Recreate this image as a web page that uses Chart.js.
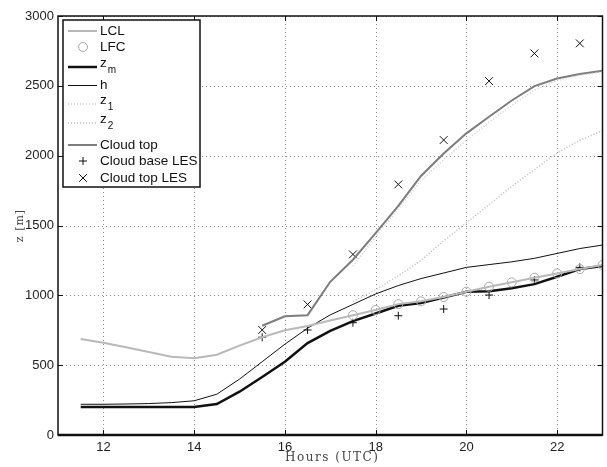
<!DOCTYPE html>
<html>
<head>
<meta charset="utf-8">
<script src="https://cdn.jsdelivr.net/npm/chart.js@4.4.0/dist/chart.umd.min.js"></script>
<style>
  html, body { margin: 0; padding: 0; background: #fff; overflow: hidden; }
</style>
</head>
<body>
<canvas id="chart" width="609" height="467"></canvas>
<script>
// half-hourly model output (hours UTC)
const hours = [11.5, 12, 12.5, 13, 13.5, 14, 14.5, 15, 15.5, 16, 16.5, 17, 17.5, 18, 18.5, 19, 19.5, 20, 20.5, 21, 21.5, 22, 22.5, 23];
const lcl = [687, 660, 628, 595, 560, 550, 575, 640, 700, 750, 780, 820, 858, 895, 937, 957, 988, 1026, 1062, 1093, 1126, 1157, 1188, 1217];
const lfc = [null, null, null, null, null, null, null, null, null, null, null, null, 858, 895, 937, 957, 988, 1026, 1062, 1093, 1126, 1157, 1188, 1217];
const zm = [200, 200, 200, 200, 200, 200, 222, 310, 415, 525, 658, 745, 815, 870, 925, 945, 985, 1025, 1030, 1050, 1080, 1133, 1188, 1210];
const hBl = [220, 220, 222, 225, 232, 245, 292, 400, 525, 650, 765, 860, 935, 1010, 1070, 1120, 1160, 1200, 1220, 1240, 1265, 1300, 1335, 1360];
const z1 = [null, null, null, null, null, null, null, null, null, null, null, null, 1210, 1420, 1620, 1820, 1970, 2110, 2240, 2360, 2470, 2540, 2575, 2600];
const z2 = [null, null, null, null, null, null, null, null, null, null, null, null, 955, 1040, 1140, 1250, 1390, 1520, 1650, 1780, 1900, 2020, 2110, 2180];
const cloudTop = [null, null, null, null, null, null, null, null, 782, 850, 858, 1097, 1255, 1445, 1640, 1855, 2015, 2160, 2279, 2395, 2498, 2553, 2585, 2608];

// LES results
const lesHours = [15.5, 16.5, 17.5, 18.5, 19.5, 20.5, 21.5, 22.5];
const lesBase = [700, 752, 804, 854, 902, 1002, 1110, 1200];
const lesTop = [752, 935, 1293, 1794, 2112, 2534, 2732, 2804];

const xTicks = [12, 14, 16, 18, 20, 22];
const yTicks = [0, 500, 1000, 1500, 2000, 2500, 3000];

const pts = (xs, ys) => xs.map((x, i) => ({ x: x, y: ys[i] }));

function lineSet(label, data, color, width, dash) {
    return {
        label: label,
        data: pts(hours, data),
        borderColor: color,
        borderWidth: width,
        borderDash: dash || [],
        pointRadius: 0,
        fill: false,
        spanGaps: false
    };
}

function markerSet(label, xs, ys, style, color, r) {
    return {
        label: label,
        data: pts(xs, ys),
        showLine: false,
        pointStyle: style,
        pointRadius: r,
        borderColor: color,
        backgroundColor: 'rgba(0,0,0,0)',
        borderWidth: 1
    };
}

const datasets = [
    lineSet('LCL', lcl, '#b9b9b9', 2),
    markerSet('LFC', hours, lfc, 'circle', '#a8a8a8', 4.5),
    lineSet('z_m', zm, '#111111', 2.5),
    lineSet('h', hBl, '#111111', 1),
    lineSet('z_1', z1, '#cfcfcf', 1.5, [1, 2]),
    lineSet('z_2', z2, '#bdbdbd', 1.5, [1, 2]),
    lineSet('Cloud top', cloudTop, '#7d7d7d', 2),
    markerSet('Cloud base LES', lesHours, lesBase, 'cross', '#111111', 4),
    markerSet('Cloud top LES', lesHours, lesTop, 'crossRot', '#111111', 5.5)
];

// legend rows: y of the sample, and label parts (main text + optional subscript)
const legendRows = [
    { y: 31, text: 'LCL' },
    { y: 47, text: 'LFC' },
    { y: 67, text: 'z', sub: 'm' },
    { y: 85, text: 'h' },
    { y: 104, text: 'z', sub: '1' },
    { y: 123, text: 'z', sub: '2' },
    { y: 145, text: 'Cloud top' },
    { y: 161, text: 'Cloud base LES' },
    { y: 178, text: 'Cloud top LES' }
];

const FONT = '"Liberation Sans", Arial, sans-serif';

// dotted grid under the data
const gridPlugin = {
    id: 'dottedGrid',
    beforeDatasetsDraw(chart) {
        const ctx = chart.ctx;
        const a = chart.chartArea;
        const xs = chart.scales.x, ys = chart.scales.y;
        ctx.save();
        ctx.strokeStyle = '#8c8c8c';
        ctx.lineWidth = 1;
        ctx.setLineDash([1, 3]);
        ctx.beginPath();
        xTicks.forEach(v => {
            const px = Math.round(xs.getPixelForValue(v)) + 0.5;
            ctx.moveTo(px, a.top); ctx.lineTo(px, a.bottom);
        });
        yTicks.forEach(v => {
            const py = Math.round(ys.getPixelForValue(v)) + 0.5;
            ctx.moveTo(a.left, py); ctx.lineTo(a.right, py);
        });
        ctx.stroke();
        ctx.restore();
    }
};

const framePlugin = {
    id: 'frame',
    afterDraw(chart) {
        const ctx = chart.ctx;
        const a = chart.chartArea;
        const xs = chart.scales.x, ys = chart.scales.y;
        ctx.save();

        // inward tick marks on all four sides
        ctx.strokeStyle = '#111';
        ctx.lineWidth = 1;
        ctx.beginPath();
        xTicks.forEach(v => {
            const px = Math.round(xs.getPixelForValue(v)) + 0.5;
            ctx.moveTo(px, a.bottom); ctx.lineTo(px, a.bottom - 5);
            ctx.moveTo(px, a.top); ctx.lineTo(px, a.top + 5);
        });
        yTicks.forEach(v => {
            const py = Math.round(ys.getPixelForValue(v)) + 0.5;
            ctx.moveTo(a.left, py); ctx.lineTo(a.left + 5, py);
            ctx.moveTo(a.right, py); ctx.lineTo(a.right - 5, py);
        });
        ctx.stroke();

        // axes box
        ctx.lineWidth = 1.5;
        ctx.strokeRect(a.left, a.top, a.right - a.left, a.bottom - a.top);
        ctx.lineWidth = 2.5;
        ctx.beginPath();
        ctx.moveTo(a.left, a.bottom); ctx.lineTo(a.right, a.bottom);
        ctx.stroke();

        // axis titles (serif, spaced like the LaTeX labels)
        ctx.fillStyle = '#444';
        ctx.font = '12px "DejaVu Serif"';
        ctx.letterSpacing = '1.5px';
        ctx.textAlign = 'center';
        ctx.textBaseline = 'middle';
        ctx.fillText('Hours (UTC)', (a.left + a.right) / 2 + 2, 458);
        ctx.save();
        ctx.translate(20, (a.top + a.bottom) / 2);
        ctx.rotate(-Math.PI / 2);
        ctx.letterSpacing = '1px';
        ctx.font = '11px "DejaVu Serif"';
        ctx.fillText('z [m]', 0, 0);
        ctx.restore();
        ctx.letterSpacing = '0px';

        // legend box
        const bx = 63, by = 20, bw = 137, bh = 167;
        ctx.fillStyle = '#fff';
        ctx.fillRect(bx, by, bw, bh);
        ctx.strokeStyle = '#111';
        ctx.lineWidth = 1.5;
        ctx.strokeRect(bx, by, bw, bh);

        legendRows.forEach((row, i) => {
            const ds = chart.data.datasets[i];
            ctx.save();
            ctx.strokeStyle = ds.borderColor;
            ctx.lineWidth = ds.borderWidth;
            if (ds.showLine === false) {
                ctx.fillStyle = 'rgba(0,0,0,0)';
                Chart.helpers.drawPoint(ctx, {
                    pointStyle: ds.pointStyle,
                    radius: ds.pointRadius,
                    borderWidth: ds.borderWidth
                }, 83, row.y);
            } else {
                const ly = ds.borderWidth === 1 ? row.y + 0.5 : row.y;
                ctx.setLineDash(ds.borderDash);
                ctx.beginPath();
                ctx.moveTo(68, ly);
                ctx.lineTo(97, ly);
                ctx.stroke();
            }
            ctx.restore();

            ctx.fillStyle = '#111';
            ctx.textAlign = 'left';
            ctx.textBaseline = 'middle';
            ctx.font = '13.5px ' + FONT;
            if (row.sub) {
                ctx.fillText(row.text, 100, row.y - 4);
                const w = ctx.measureText(row.text).width;
                ctx.font = '10px ' + FONT;
                ctx.fillText(row.sub, 100 + w + 1, row.y + 3);
            } else {
                ctx.fillText(row.text, 100, row.y);
            }
        });

        ctx.restore();
    }
};

new Chart(document.getElementById('chart'), {
    type: 'line',
    data: { datasets: datasets },
    options: {
        responsive: false,
        animation: false,
        layout: { padding: { top: 16, left: 0, right: 0, bottom: 0 } },
        elements: { line: { tension: 0 } },
        plugins: {
            legend: { display: false },
            tooltip: { enabled: false }
        },
        scales: {
            x: {
                type: 'linear',
                min: 11,
                max: 23,
                afterFit: s => { s.height = 32; },
                afterBuildTicks: s => { s.ticks = xTicks.map(v => ({ value: v })); },
                ticks: {
                    padding: 5,
                    color: '#222',
                    font: { family: FONT, size: 13 },
                    callback: v => String(v)
                },
                grid: { display: false, drawTicks: false },
                border: { display: false }
            },
            y: {
                min: 0,
                max: 3000,
                afterFit: s => { s.width = 58; },
                afterBuildTicks: s => { s.ticks = yTicks.map(v => ({ value: v })); },
                ticks: {
                    padding: 4,
                    color: '#222',
                    font: { family: FONT, size: 13 },
                    callback: v => String(v)
                },
                grid: { display: false, drawTicks: false },
                border: { display: false }
            }
        }
    },
    plugins: [gridPlugin, framePlugin]
});
</script>
</body>
</html>
